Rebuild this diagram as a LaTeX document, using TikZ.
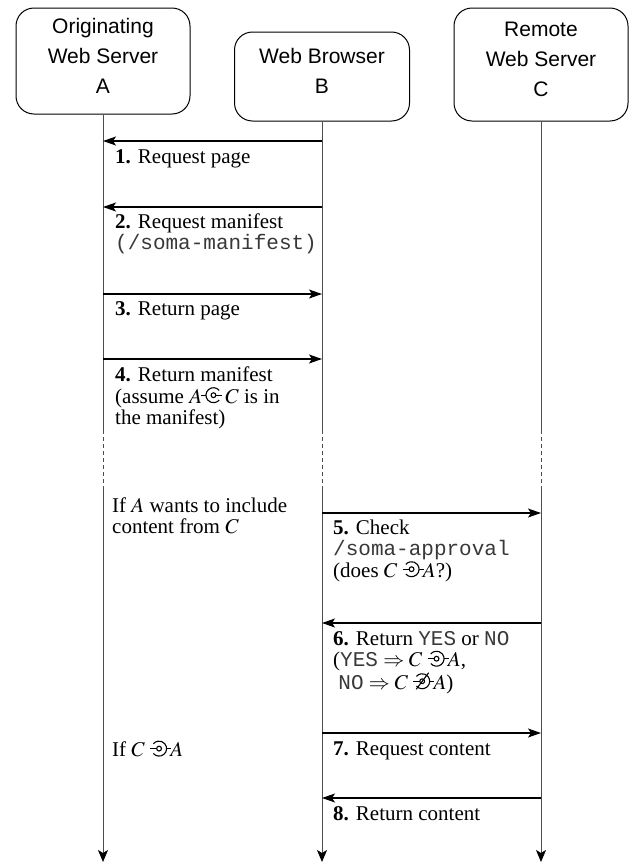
\documentclass[tikz,border=0pt]{standalone}
\usepackage{mathptmx}
\usepackage[no-math]{fontspec}
\setmainfont{Liberation Serif}
\setsansfont{Liberation Sans}
\setmonofont{Liberation Mono}
\usetikzlibrary{arrows.meta}

\newcommand{\tstrut}{\rule{0pt}{15pt}}
\newcommand{\mono}[1]{\textcolor{black!78}{\texttt{#1}}}
\newcommand{\symR}{\mathrel{\mkern-5mu\tikz[baseline=0pt,x=1pt,y=1pt,line width=1.1pt]{%
  \draw (0,8)--(4.5,8);
  \draw (12,8)++(40:7.5) arc[start angle=40,end angle=320,radius=7.5];
  \draw (12,8) circle[radius=2.4];
  \draw (14.4,8)--(21,8);}\mkern-2mu}}
\newcommand{\symL}{\mathrel{\tikz[baseline=0pt,x=1pt,y=1pt,line width=1.1pt]{%
  \draw (0,8)--(6.6,8);
  \draw (9,8) circle[radius=2.4];
  \draw (9,8)++(-140:7.5) arc[start angle=-140,end angle=140,radius=7.5];
  \draw (16.5,8)--(21,8);}\mkern-5mu}}
\newcommand{\nsymL}{\mathrel{\tikz[baseline=0pt,x=1pt,y=1pt,line width=1.1pt]{%
  \draw (0,8)--(6.6,8);
  \draw (9,8) circle[radius=2.4];
  \draw (9,8)++(-140:7.5) arc[start angle=-140,end angle=140,radius=7.5];
  \draw (16.5,8)--(21,8);
  \draw (3,0)--(15.5,16.5);}\mkern-5mu}}

\begin{document}
\begin{tikzpicture}[x=1pt,y=-1pt,
  hdrbox/.style={draw, line width=1pt, rounded corners=18pt, inner sep=0pt},
  hdrtext/.style={anchor=north, inner sep=0pt, align=center, font=\sffamily\fontsize{21}{30}\selectfont},
  msgtext/.style={anchor=north west, inner sep=0pt, align=left, font=\fontsize{21}{21.5}\selectfont},
  life/.style={draw=black!70, line width=0.8pt},
  lifedash/.style={life, dash pattern=on 4pt off 3pt},
  lifeend/.style={life, -{Stealth[length=12pt,width=10pt,inset=3pt,fill=black,color=black]}},
  msg/.style={draw=black, line width=1.1pt, -{Stealth[length=13pt,width=9pt,inset=3pt]}}
]
\useasboundingbox (0,0) rectangle (636,865);

% header boxes
\node[hdrbox, minimum width=174pt, minimum height=106pt] (boxA) at (103,61) {};
\node[hdrbox, minimum width=175pt, minimum height=89pt] (boxB) at (322,76.5) {};
\node[hdrbox, minimum width=174pt, minimum height=113pt] (boxC) at (541,64.5) {};
\node[hdrtext] (labA) at (103,18) {\tstrut Originating\\Web Server\\A};
\node[hdrtext] (labB) at (322,48) {\tstrut Web Browser\\B};
\node[hdrtext] (labC) at (541,21) {\tstrut Remote\\Web Server\\C};

% lifeline coordinates
\coordinate (A1) at (103,430); \coordinate (A2) at (103,488); \coordinate (A3) at (103,862);
\coordinate (B1) at (322,430); \coordinate (B2) at (322,488); \coordinate (B3) at (322,862);
\coordinate (C1) at (541,430); \coordinate (C2) at (541,488); \coordinate (C3) at (541,862);

\draw[life] (boxA.south) -- (A1);
\draw[lifedash] (A1) -- (A2);
\draw[lifeend] (A2) -- (A3);
\draw[life] (boxB.south) -- (B1);
\draw[lifedash] (B1) -- (B2);
\draw[lifeend] (B2) -- (B3);
\draw[life] (boxC.south) -- (C1);
\draw[lifedash] (C1) -- (C2);
\draw[lifeend] (C2) -- (C3);

% message coordinates
\coordinate (m1a) at (103,141); \coordinate (m1b) at (322,141);
\coordinate (m2a) at (103,207); \coordinate (m2b) at (322,207);
\coordinate (m3a) at (103,294); \coordinate (m3b) at (322,294);
\coordinate (m4a) at (103,359); \coordinate (m4b) at (322,359);
\coordinate (m5b) at (322,513); \coordinate (m5c) at (541,513);
\coordinate (m6b) at (322,623); \coordinate (m6c) at (541,623);
\coordinate (m7b) at (322,733); \coordinate (m7c) at (541,733);
\coordinate (m8b) at (322,798); \coordinate (m8c) at (541,798);

\draw[msg] (m1b) -- (m1a);
\draw[msg] (m2b) -- (m2a);
\draw[msg] (m3a) -- (m3b);
\draw[msg] (m4a) -- (m4b);
\draw[msg] (m5b) -- (m5c);
\draw[msg] (m6c) -- (m6b);
\draw[msg] (m7b) -- (m7c);
\draw[msg] (m8c) -- (m8b);

% message texts
\node[msgtext] (t1) at (115,148) {\tstrut\textbf{1.} Request page};
\node[msgtext] (t2) at (115,213) {\tstrut\textbf{2.} Request manifest\\\mono{(/soma-manifest)}};
\node[msgtext] (t3) at (115,300) {\tstrut\textbf{3.} Return page};
\node[msgtext] (t4) at (115,366.5) {\tstrut\textbf{4.} Return manifest\\(assume $A\symR C$ is in\\the manifest)};
\node[msgtext] (tif1) at (112,497) {\tstrut If $A$ wants to include\\content from $C$};
\node[msgtext] (t5) at (333,519) {\tstrut\textbf{5.} Check\\\mono{/soma-approval}\\(does $C\symL A$?)};
\node[msgtext] (t6) at (333,630) {\tstrut\textbf{6.} Return \mono{YES} or \mono{NO}\\(\mono{YES} $\Rightarrow C\symL A$,\\\ \mono{NO} $\Rightarrow C\nsymL A$)};
\node[msgtext] (tif2) at (112,740) {\tstrut If $C\symL A$};
\node[msgtext] (t7) at (333,740) {\tstrut\textbf{7.} Request content};
\node[msgtext] (t8) at (333,805) {\tstrut\textbf{8.} Return content};
\end{tikzpicture}
\end{document}
